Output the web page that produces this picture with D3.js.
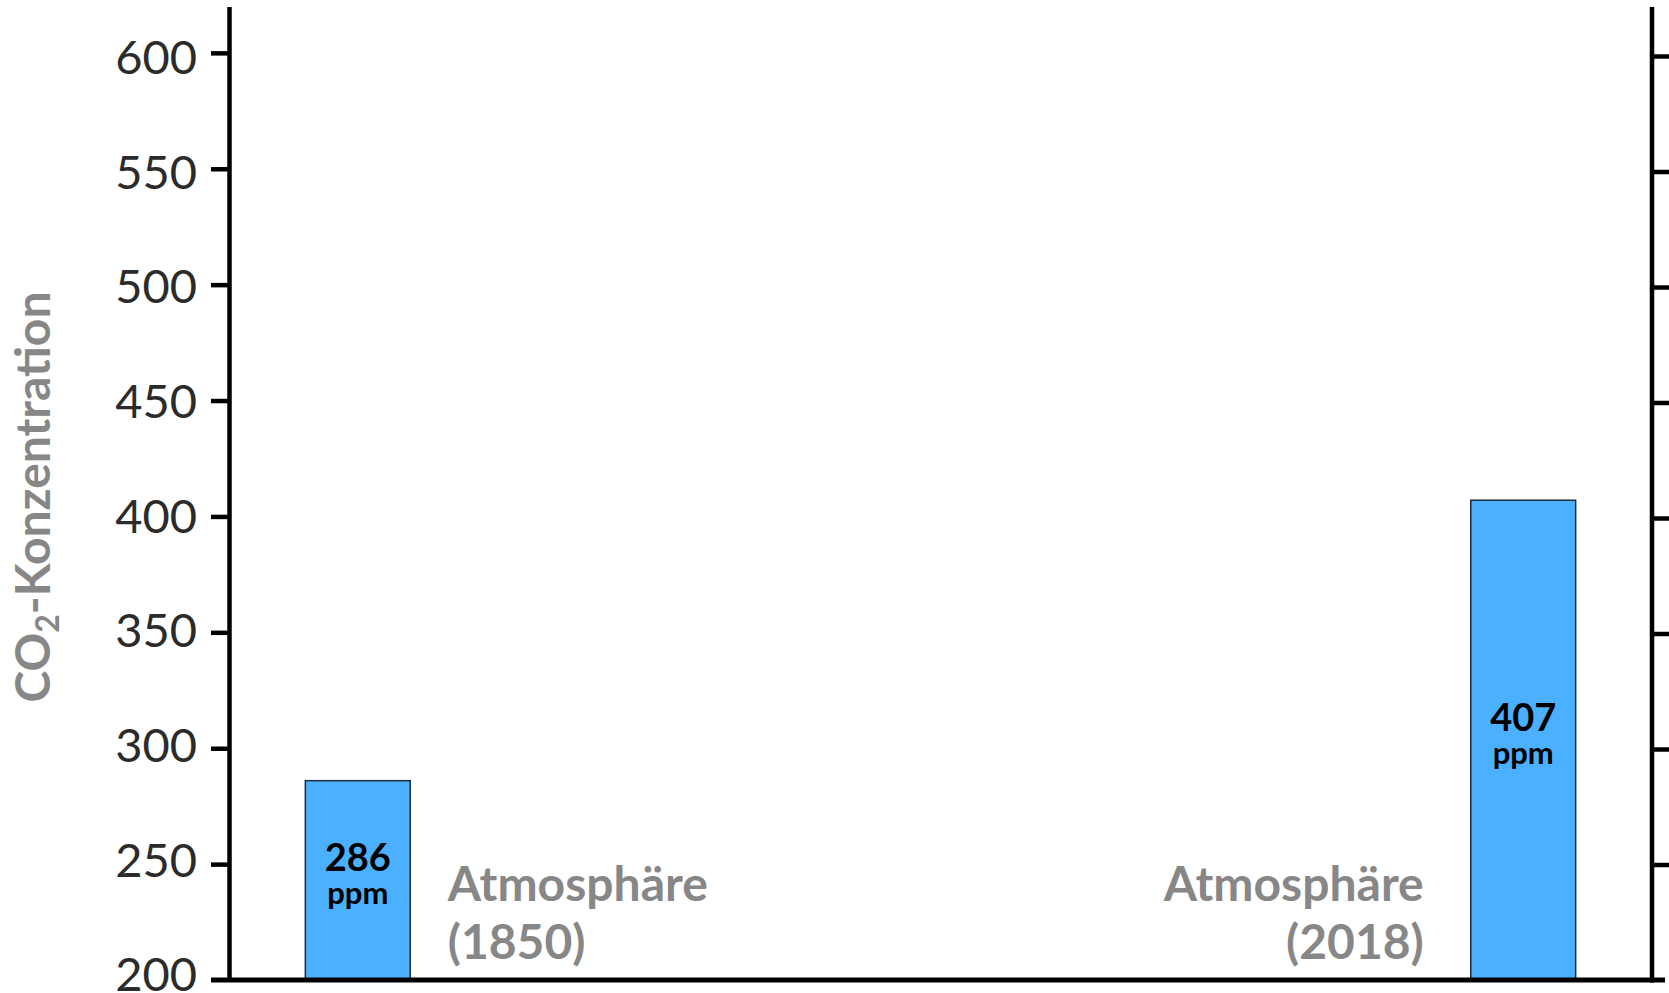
<!DOCTYPE html>
<html><head><meta charset="utf-8">
<script src="https://cdn.jsdelivr.net/npm/d3@7"></script>
<style>
html,body{margin:0;padding:0;background:#fff;}
svg{display:block;font-family:Lato,"Noto Sans",sans-serif;}
</style></head>
<body>
<svg id="chart" width="1669" height="993"></svg>
<script>
const categories = ["Atmosphäre|(1850)", "Atmosphäre|(2018)"];
const values = [286, 407];
const valueLabels = ["286", "407"];
const unitLabel = "ppm";
const tickValues = [250, 300, 350, 400, 450, 500, 550, 600];
const labelValues = [200, 250, 300, 350, 400, 450, 500, 550, 600];
const yTitle = ["CO", "2", "-Konzentration"];

const svg = d3.select("#chart");
const axisLeftX = 229, axisRightX = 1652, baseY = 980;

const y = d3.scaleLinear().domain([200, 620]).range([baseY, 6.5]);
const yRight = d3.scaleLinear().domain([200, 600]).range([baseY, 56]);
const yLabel = d3.scaleLinear().domain([250, 600]).range([876.7, 74]);
const x = d3.scaleBand().domain(categories).range([axisLeftX, axisRightX])
  .paddingInner(0.91).paddingOuter(0.0655);

// Left axis
const gL = svg.append("g").attr("transform", `translate(${axisLeftX},0)`)
  .call(d3.axisLeft(y).tickValues(tickValues).tickSize(18).tickSizeOuter(0).tickFormat(""));
gL.selectAll("path.domain").attr("stroke", "#000").attr("stroke-width", 4.5);
gL.selectAll(".tick line").attr("stroke", "#000").attr("stroke-width", 4.5);

svg.append("g").selectAll("text").data(labelValues).join("text")
  .attr("x", axisLeftX - 32).attr("y", d => yLabel(d))
  .attr("text-anchor", "end").attr("font-size", 47).attr("fill", "#2b2b2b")
  .text(d => d);

// Right axis
const gR = svg.append("g").attr("transform", `translate(${axisRightX},0)`)
  .call(d3.axisRight(yRight).tickValues(tickValues).tickSize(18).tickSizeOuter(0).tickFormat(""));
gR.selectAll("path.domain").remove();
gR.append("line").attr("x1", 0).attr("x2", 0).attr("y1", baseY + 2.5).attr("y2", 7)
  .attr("stroke", "#000").attr("stroke-width", 4.5);
gR.selectAll(".tick line").attr("stroke", "#000").attr("stroke-width", 4.5);

// Bars
svg.append("g").selectAll("rect").data(values).join("rect")
  .attr("x", (d, i) => x(categories[i]))
  .attr("width", x.bandwidth())
  .attr("y", d => y(d))
  .attr("height", d => baseY - y(d))
  .attr("fill", "#4AB0FF").attr("stroke", "#1d2b3a").attr("stroke-width", 1.5);

// Bar value labels
const bl = svg.append("g");
values.forEach((v, i) => {
  const cx = x(categories[i]) + x.bandwidth() / 2;
  const cy = (y(v) + baseY) / 2;
  bl.append("text").attr("x", cx).attr("y", cy - 9).attr("text-anchor", "middle")
    .attr("font-size", 38).attr("font-weight", 700).attr("fill", "#000").text(valueLabels[i]);
  bl.append("text").attr("x", cx).attr("y", cy + 24).attr("text-anchor", "middle")
    .attr("font-size", 31).attr("font-weight", 700).attr("fill", "#000").text(unitLabel);
});

// Bottom axis line
svg.append("line").attr("x1", 211).attr("x2", 1665).attr("y1", baseY).attr("y2", baseY)
  .attr("stroke", "#000").attr("stroke-width", 5);

// Category labels
const cl = svg.append("g");
categories.forEach((c, i) => {
  const lines = c.split("|");
  const left = i === 0;
  const xPos = left ? x(c) + x.bandwidth() + 37.5 : x(c) - 47;
  lines.forEach((t, j) => {
    cl.append("text").attr("x", xPos).attr("y", 901 + j * 58)
      .attr("text-anchor", left ? "start" : "end")
      .attr("font-size", 48).attr("font-weight", 700).attr("fill", "#878787").text(t);
  });
});

// Y title
const yt = svg.append("text").attr("transform", "translate(50,497) rotate(-90)")
  .attr("text-anchor", "middle").attr("font-size", 48).attr("font-weight", 700).attr("fill", "#878787");
yt.append("tspan").text(yTitle[0]);
yt.append("tspan").attr("font-size", 32).attr("dy", 9).text(yTitle[1]);
yt.append("tspan").attr("dy", -9).text(yTitle[2]);
</script>
</body></html>
